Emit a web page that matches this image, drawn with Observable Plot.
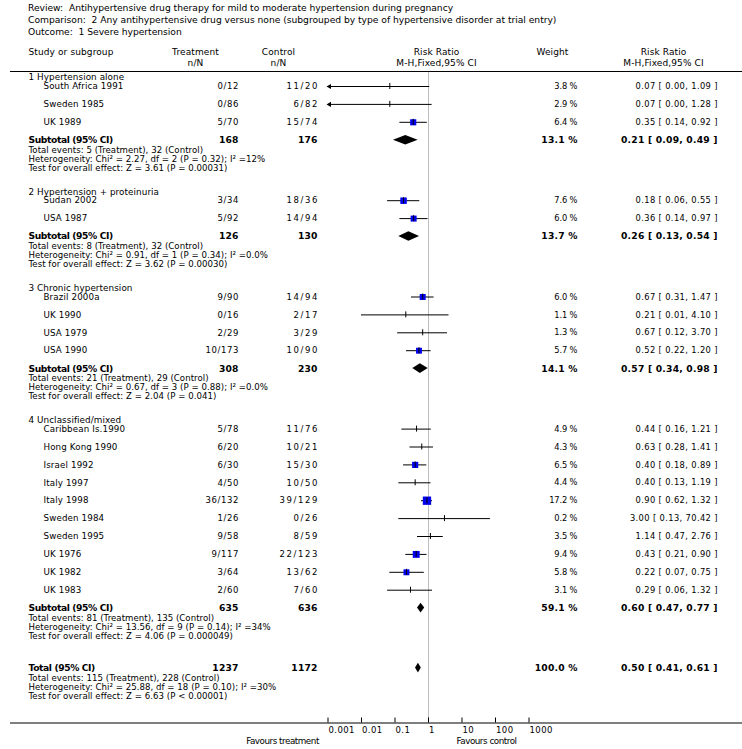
<!DOCTYPE html>
<html><head><meta charset="utf-8">
<script src="https://cdn.jsdelivr.net/npm/d3@7"></script>
<script src="https://cdn.jsdelivr.net/npm/@observablehq/plot@0.6"></script>
<style>
body{margin:0;background:#fff;font-family:"DejaVu Sans",sans-serif;}
#hdr{height:40px;padding:2px 0 0 28px;box-sizing:border-box;font-size:9.2px;line-height:12px;color:#000;white-space:pre;}
#chart svg{display:block;}
</style></head><body>
<div id="hdr"><div>Review:  Antihypertensive drug therapy for mild to moderate hypertension during pregnancy</div><div id="cmp">Comparison:  2 Any antihypertensive drug versus none (subgrouped by type of hypertensive disorder at trial entry)</div><div>Outcome:  1 Severe hypertension</div></div>
<div id="chart"></div>
<script>
// ---------- data ----------
const columnHeads = ["Study or subgroup", "Treatment", "Control", "Risk Ratio", "Weight", "Risk Ratio"];
const columnSubs = ["", "n/N", "n/N", "M-H,Fixed,95% CI", "", "M-H,Fixed,95% CI"];

const groupNames = ["1 Hypertension alone", "2 Hypertension + proteinuria", "3 Chronic hypertension", "4 Unclassified/mixed"];

const studyNames = ["South Africa 1991", "Sweden 1985", "UK 1989",
  "Sudan 2002", "USA 1987",
  "Brazil 2000a", "UK 1990", "USA 1979", "USA 1990",
  "Caribbean Is.1990", "Hong Kong 1990", "Israel 1992", "Italy 1997", "Italy 1998", "Sweden 1984", "Sweden 1995", "UK 1976", "UK 1982", "UK 1983"];
const studyGroup = [0,0,0, 1,1, 2,2,2,2, 3,3,3,3,3,3,3,3,3,3];
const treatEvents = [0,0,5, 3,5, 9,0,2,10, 5,6,6,4,36,1,9,9,3,2];
const treatTotal  = [12,86,70, 34,92, 90,16,29,173, 78,20,30,50,132,26,58,117,64,60];
const ctrlEvents  = [11,6,15, 18,14, 14,2,3,10, 11,10,15,10,39,0,8,22,13,7];
const ctrlTotal   = [20,82,74, 36,94, 94,17,29,90, 76,21,30,50,129,26,59,123,62,60];
const weights     = [3.8,2.9,6.4, 7.6,6.0, 6.0,1.1,1.3,5.7, 4.9,4.3,6.5,4.4,17.2,0.2,3.5,9.4,5.8,3.1];
const riskRatio   = [0.07,0.07,0.35, 0.18,0.36, 0.67,0.21,0.67,0.52, 0.44,0.63,0.40,0.40,0.90,3.00,1.14,0.43,0.22,0.29];
const ciLow       = [0.00,0.00,0.14, 0.06,0.14, 0.31,0.01,0.12,0.22, 0.16,0.28,0.18,0.13,0.62,0.13,0.47,0.21,0.07,0.06];
const ciHigh      = [1.09,1.28,0.92, 0.55,0.97, 1.47,4.10,3.70,1.20, 1.21,1.41,0.89,1.19,1.32,70.42,2.76,0.90,0.75,1.32];

const subTreatN  = [168,126,308,635];
const subCtrlN   = [176,130,230,636];
const subTreatEv = [5,8,21,81];
const subCtrlEv  = [32,32,29,135];
const subChi2    = ["2.27","0.91","0.67","13.56"];
const subDf      = [2,1,3,9];
const subHetP    = ["0.32","0.34","0.88","0.14"];
const subI2      = ["12%","0.0%","0.0%","34%"];
const subZ       = ["3.61","3.62","2.04","4.06"];
const subZP      = ["P = 0.00031","P = 0.00030","P = 0.041","P = 0.000049"];
const subWeight  = [13.1,13.7,14.1,59.1];
const subRR      = [0.21,0.26,0.57,0.60];
const subLow     = [0.09,0.13,0.34,0.47];
const subHigh    = [0.49,0.54,0.98,0.77];

const totalTreatN = 1237, totalCtrlN = 1172;
const totalTreatEv = 115, totalCtrlEv = 228;
const totalChi2 = "25.88", totalDf = 18, totalHetP = "0.10", totalI2 = "30%";
const totalZ = "6.63", totalZP = "P < 0.00001";
const totalWeight = 100.0, totalRR = 0.50, totalLow = 0.41, totalHigh = 0.61;

const axisTicks = [0.001, 0.01, 0.1, 1, 10, 100, 1000];
const axisTickLabels = ["0.001", "0.01", "0.1", "1", "10", "100", "1000"];
const favourLabels = ["Favours treatment", "Favours control"];

// ---------- text fitting (letter-spacing so widths match the reference) ----------
const FAM = "DejaVu Sans";
const ctx = document.createElement("canvas").getContext("2d");
function spacing(str, target, size, weight = "normal") {
  ctx.font = `${weight} ${size}px "${FAM}"`;
  return (target - ctx.measureText(str).width) / str.length;
}
const SZ = {head: 9, grp: 8.8, name: 8.7, num: 8.5, wt: 8.3, rr: 8.3, bold: 9.2, stat: 8.6, fav: 8.8, tick: 8.5, title: 9.2};
const LS = {
  title: spacing(document.getElementById("cmp").textContent, 528.4, SZ.title),
  head: spacing("Study or subgroup", 85, SZ.head),
  grp: spacing("1 Hypertension alone", 95.7, SZ.grp),
  name: spacing("South Africa 1991", 80, SZ.name),
  treat: 0.6,
  ctrl: 1.6,
  wt: spacing("3.8 %", 23, SZ.wt),
  rr: spacing("0.07 [ 0.00, 1.09 ]", 82.3, SZ.rr),
  sublabel: spacing("Subtotal (95% CI)", 84.3, SZ.bold, "bold"),
  boldnum: spacing("0.21 [ 0.09, 0.49 ]", 96.7, SZ.bold, "bold"),
  stat: spacing("Heterogeneity: Chi\u00b2 = 2.27, df = 2 (P = 0.32); I\u00b2 =12%", 236.7, SZ.stat),
  fav: spacing("Favours treatment", 72.7, SZ.fav),
  tick: spacing("1000", 23.3, SZ.tick)
};
document.getElementById("hdr").style.letterSpacing = LS.title + "px";
const css = document.createElement("style");
css.textContent = Object.entries(LS).map(([k, v]) => `#chart g[aria-description="${k}"]{letter-spacing:${v.toFixed(3)}px;}`).join("\n");
document.head.appendChild(css);

// ---------- layout (page pixel rows) ----------
const TOP = 40, W = 742, H = 749 - TOP;
const headRuleY = 71, headY1 = 52, headY2 = 63;
const groupY = [], studyY = [], subY = [], statY = [];
let cur = 77;
groupNames.forEach((g, gi) => {
  groupY[gi] = cur; cur += 9;
  studyGroup.forEach((sg, i) => { if (sg === gi) { studyY[i] = cur; cur += 17.9; } });
  subY[gi] = cur;
  statY[gi] = [cur + 10, cur + 19, cur + 28];
  cur = cur + 28 + 23.5;
});
const totalY = statY[3][2] + 32;
const totalStatY = [totalY + 10, totalY + 19, totalY + 28];
const axisLineY = 722.5;

// column x positions (page px)
const colStudy = 28, colName = 43, colTreat = 238, colCtrl = 317, colWeight = 577, colRR = 717;
const headX = [28, 195, 278, 436, 552, 663];
const headAnchor = ["start", "middle", "middle", "middle", "middle", "middle"];
const favourX = [282, 486];

const fmt2 = v => v.toFixed(2);
const rrText = (r, l, h) => `${fmt2(r)} [ ${fmt2(l)}, ${fmt2(h)} ]`;

const studies = studyNames.map((name, i) => ({
  name, y: studyY[i],
  tr: `${treatEvents[i]}/${treatTotal[i]}`,
  ct: `${ctrlEvents[i]}/${ctrlTotal[i]}`,
  w: weights[i], rr: riskRatio[i], lo: ciLow[i], hi: ciHigh[i],
  wt: `${weights[i].toFixed(1)} %`,
  rt: rrText(riskRatio[i], ciLow[i], ciHigh[i])
}));
const groups = groupNames.map((name, gi) => ({name, y: groupY[gi]}));
const xMin = axisTicks[0], xMax = axisTicks[axisTicks.length - 1];

const pooled = groupNames.map((g, gi) => ({
  label: "Subtotal (95% CI)", y: subY[gi], tn: String(subTreatN[gi]), cn: String(subCtrlN[gi]),
  wt: `${subWeight[gi].toFixed(1)} %`, rt: rrText(subRR[gi], subLow[gi], subHigh[gi]),
  rr: subRR[gi], lo: subLow[gi], hi: subHigh[gi],
  stats: [`Total events: ${subTreatEv[gi]} (Treatment), ${subCtrlEv[gi]} (Control)`,
          `Heterogeneity: Chi\u00b2 = ${subChi2[gi]}, df = ${subDf[gi]} (P = ${subHetP[gi]}); I\u00b2 =${subI2[gi]}`,
          `Test for overall effect: Z = ${subZ[gi]} (${subZP[gi]})`],
  statY: statY[gi]
}));
pooled.push({
  label: "Total (95% CI)", y: totalY, tn: String(totalTreatN), cn: String(totalCtrlN),
  wt: `${totalWeight.toFixed(1)} %`, rt: rrText(totalRR, totalLow, totalHigh),
  rr: totalRR, lo: totalLow, hi: totalHigh,
  stats: [`Total events: ${totalTreatEv} (Treatment), ${totalCtrlEv} (Control)`,
          `Heterogeneity: Chi\u00b2 = ${totalChi2}, df = ${totalDf} (P = ${totalHetP}); I\u00b2 =${totalI2}`,
          `Test for overall effect: Z = ${totalZ} (${totalZP})`],
  statY: totalStatY
});
const statLines = pooled.flatMap(p => p.stats.map((s, k) => ({text: s, y: p.statY[k]})));
const DH = 4.8;
const diamondPts = pooled.flatMap((p, k) => [
  {id: k, x: p.lo, y1: p.y, y2: p.y},
  {id: k, x: p.rr, y1: p.y - DH, y2: p.y + DH},
  {id: k, x: p.hi, y1: p.y, y2: p.y}
]);

const FF = `${FAM}, sans-serif`;
const T = (data, opts) => Plot.text(data, {frameAnchor: "left", fontFamily: FF, fontSize: SZ.num, fill: "#000", lineAnchor: "middle", ...opts});
const B = (data, opts) => T(data, {fontWeight: "bold", fontSize: SZ.bold, ariaDescription: "boldnum", ...opts});

const headerMarks = columnHeads.flatMap((h, i) => [
  T([h], {text: d => d, y: headY1, dx: headX[i], textAnchor: headAnchor[i], fontSize: SZ.head, ariaDescription: "head"}),
  T([columnSubs[i]], {text: d => d, y: headY2, dx: headX[i], textAnchor: headAnchor[i], fontSize: SZ.head, ariaDescription: "head"})
]);
const favourMarks = favourLabels.map((f, i) =>
  T([f], {text: d => d, y: axisLineY + 18, dx: favourX[i], textAnchor: "middle", fontSize: SZ.fav, ariaDescription: "fav"}));

const chart = Plot.plot({
  width: W, height: H,
  marginLeft: 0, marginRight: 0, marginTop: 0, marginBottom: 0,
  x: {type: "log", domain: [xMin, xMax], range: [327.5, 528.5], axis: null},
  y: {domain: [TOP, TOP + H], range: [0, H], axis: null},
  r: {type: "pow", exponent: 0.31, domain: [0, 17.2], range: [0, 4.7]},
  style: {fontFamily: FF, background: "#fff"},
  marks: [
    // null line and rules
    Plot.ruleX([1], {x: d => d, y1: headRuleY, y2: axisLineY, stroke: "#bdbdbd", strokeWidth: 1}),
    Plot.ruleY([headRuleY, axisLineY], {y: d => d, insetLeft: 10, stroke: "#000", strokeWidth: 1.2}),
    // axis ticks & labels
    Plot.ruleX(axisTicks, {x: d => d, y1: axisLineY - 5, y2: axisLineY, stroke: "#000"}),
    Plot.text(axisTicks, {x: d => d, y: axisLineY + 7.5, text: (d, i) => axisTickLabels[i], dx: 0.5, textAnchor: "start", fontFamily: FF, fontSize: SZ.tick, fill: "#000", lineAnchor: "middle", ariaDescription: "tick"}),
    ...favourMarks,
    // CI lines
    Plot.ruleY(studies, {y: "y", x1: d => Math.max(d.lo, xMin), x2: d => Math.min(d.hi, xMax), stroke: "#000", strokeWidth: 1}),
    Plot.dot(studies.filter(d => d.lo < xMin), {x: () => xMin, y: "y", symbol: "triangle", r: 1.9, rotate: -90, dx: 1.5, fill: "#000", stroke: null}),
    // weighted squares
    Plot.dot(studies.filter(d => d.w >= 5), {x: "rr", y: "y", r: "w", symbol: "square", fill: "#0000ee", stroke: null}),
    // point ticks
    Plot.ruleX(studies, {x: "rr", y1: d => d.y - 3, y2: d => d.y + 3, stroke: "#000", strokeWidth: 1}),
    // diamonds
    Plot.areaY(diamondPts, {x: "x", y1: "y1", y2: "y2", z: "id", fill: "#000", curve: "linear"}),
    // headers
    ...headerMarks,
    // group labels and studies
    T(groups, {text: "name", y: "y", dx: colStudy, fontSize: SZ.grp, ariaDescription: "grp"}),
    T(studies, {text: "name", y: "y", dx: colName, fontSize: SZ.name, ariaDescription: "name"}),
    T(studies, {text: "tr", y: "y", dx: colTreat + LS.treat, textAnchor: "end", ariaDescription: "treat"}),
    T(studies, {text: "ct", y: "y", dx: colCtrl + LS.ctrl, textAnchor: "end", ariaDescription: "ctrl"}),
    T(studies, {text: "wt", y: "y", dx: colWeight + LS.wt, textAnchor: "end", fontSize: SZ.wt, ariaDescription: "wt"}),
    T(studies, {text: "rt", y: "y", dx: colRR + LS.rr, textAnchor: "end", fontSize: SZ.rr, ariaDescription: "rr"}),
    // subtotals / total
    B(pooled, {text: "label", y: "y", dx: colStudy, ariaDescription: "sublabel"}),
    B(pooled, {text: "tn", y: "y", dx: colTreat + LS.boldnum, textAnchor: "end"}),
    B(pooled, {text: "cn", y: "y", dx: colCtrl + LS.boldnum, textAnchor: "end"}),
    B(pooled, {text: "wt", y: "y", dx: colWeight + LS.boldnum, textAnchor: "end"}),
    B(pooled, {text: "rt", y: "y", dx: colRR + LS.boldnum, textAnchor: "end"}),
    T(statLines, {text: "text", y: "y", dx: colStudy, fontSize: SZ.stat, ariaDescription: "stat"})
  ]
});
document.getElementById("chart").appendChild(chart);
</script>
</body></html>
